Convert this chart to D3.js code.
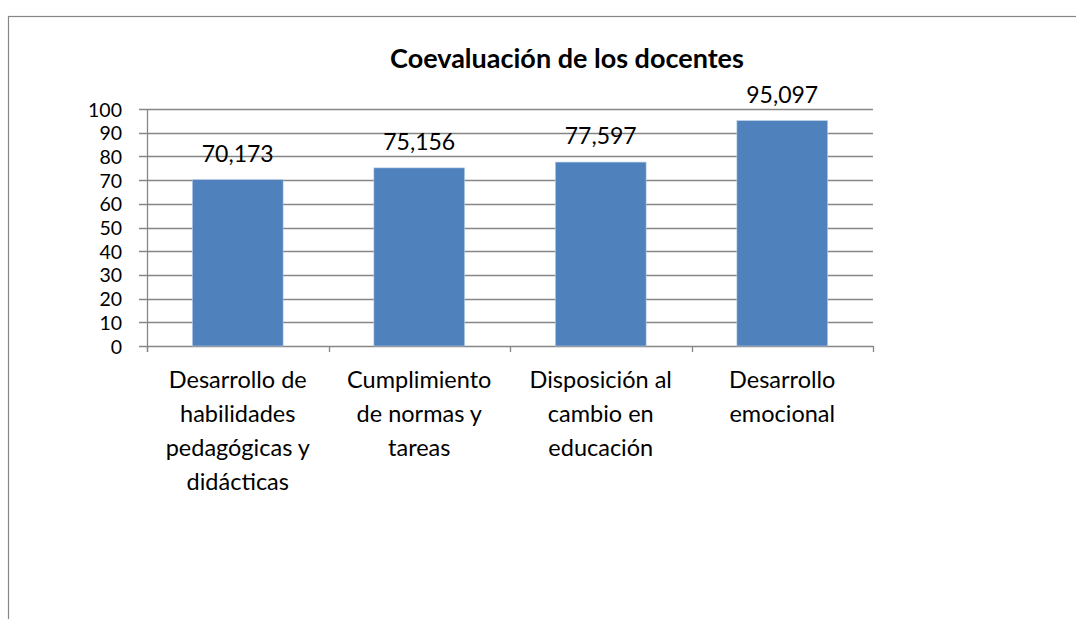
<!DOCTYPE html>
<html>
<head>
<meta charset="utf-8">
<script src="https://cdn.jsdelivr.net/npm/d3@7"></script>
<style>
  body { margin: 0; background: #fff; }
  text { font-family: Lato, "Open Sans", sans-serif; fill: #000; }
</style>
</head>
<body>
<div id="chart"></div>
<script>
// Chart data

var categories = [
  ["Desarrollo de", "habilidades", "pedagógicas y", "didácticas"],
  ["Cumplimiento", "de normas y", "tareas"],
  ["Disposición al", "cambio en", "educación"],
  ["Desarrollo", "emocional"]
];
var values = [70.173, 75.156, 77.597, 95.097];
var valueLabels = ["70,173", "75,156", "77,597", "95,097"];
var yTicks = [0, 10, 20, 30, 40, 50, 60, 70, 80, 90, 100];
var title = "Coevaluación de los docentes";

var margin = { top: 109, right: 203, bottom: 273, left: 147 },
    width = 1076 - margin.left - margin.right,
    height = 619 - margin.top - margin.bottom;

var svg = d3.select("#chart").append("svg")
    .attr("width", 1076)
    .attr("height", 619);

// outer chart border (right and bottom run off the page)
svg.append("rect")
    .attr("x", 8.5)
    .attr("y", 16.5)
    .attr("width", 1100)
    .attr("height", 700)
    .attr("fill", "none")
    .attr("stroke", "#868686")
    .attr("stroke-width", 1.2);

svg.append("text")
    .attr("x", 567)
    .attr("y", 68)
    .attr("text-anchor", "middle")
    .style("font-size", "27px")
    .style("font-weight", "bold")
    .text(title);

var g = svg.append("g")
    .attr("transform", "translate(" + margin.left + "," + margin.top + ")");

var xScale = d3.scaleBand()
    .domain(d3.range(categories.length))
    .range([0, width])
    .paddingInner(0.5)
    .paddingOuter(0.25);

var xOuter = d3.scaleBand()
    .domain(d3.range(categories.length))
    .range([0, width]);

var yScale = d3.scaleLinear()
    .domain([0, 100])
    .range([height, 0]);

// gridlines
g.append("g")
    .attr("class", "grid")
  .selectAll("line")
    .data(yTicks)
  .enter().append("line")
    .attr("x1", -8)
    .attr("x2", width)
    .attr("y1", function(d) { return Math.round(yScale(d)) + 0.5; })
    .attr("y2", function(d) { return Math.round(yScale(d)) + 0.5; })
    .attr("stroke", "#868686")
    .attr("stroke-width", 1.3);

// y axis; labels sized so their boxes fit the 10-unit step
var yAxis = g.append("g")
    .call(d3.axisLeft(yScale).tickValues(yTicks).tickSize(0).tickPadding(25));
yAxis.select(".domain").remove();
yAxis.selectAll("text")
    .style("font-size", "19.5px")
    .style("font-family", "Lato, 'Open Sans', sans-serif")
    .attr("dy", "0.36em")
    .attr("fill", "#000");

g.append("line")
    .attr("x1", 0.5).attr("x2", 0.5)
    .attr("y1", 0).attr("y2", height + 6)
    .attr("stroke", "#868686")
    .attr("stroke-width", 1.3);

// category tick marks
g.append("g")
  .selectAll("line")
    .data(d3.range(categories.length + 1))
  .enter().append("line")
    .attr("x1", function(i) { return Math.round(i * xOuter.step()) + 0.5; })
    .attr("x2", function(i) { return Math.round(i * xOuter.step()) + 0.5; })
    .attr("y1", height)
    .attr("y2", height + 6)
    .attr("stroke", "#868686")
    .attr("stroke-width", 1.3);

// bars
g.append("g")
  .selectAll("rect")
    .data(values)
  .enter().append("rect")
    .attr("x", function(d, i) { return xScale(i); })
    .attr("y", function(d) { return yScale(d); })
    .attr("width", xScale.bandwidth())
    .attr("height", function(d) { return height - yScale(d); })
    .attr("fill", "#4f81bd")
    .attr("stroke", "#b9cde5")
    .attr("stroke-width", 0.6);

// value labels
g.append("g")
  .selectAll("text")
    .data(values)
  .enter().append("text")
    .attr("x", function(d, i) { return xScale(i) + xScale.bandwidth() / 2; })
    .attr("y", function(d) { return yScale(d) - 18; })
    .attr("text-anchor", "middle")
    .style("font-size", "23px")
    .text(function(d, i) { return valueLabels[i]; });

// category labels, one tspan per line
var catLabels = g.append("g")
  .selectAll("text")
    .data(categories)
  .enter().append("text")
    .attr("text-anchor", "middle")
    .style("font-size", "23.5px")
    .attr("transform", function(d, i) {
      return "translate(" + (xOuter(i) + xOuter.bandwidth() / 2) + "," + (height + 42) + ")";
    });

catLabels.selectAll("tspan")
    .data(function(d) { return d; })
  .enter().append("tspan")
    .attr("x", 0)
    .attr("y", function(d, j) { return j * 34; })
    .text(function(d) { return d; });
</script>
</body>
</html>
